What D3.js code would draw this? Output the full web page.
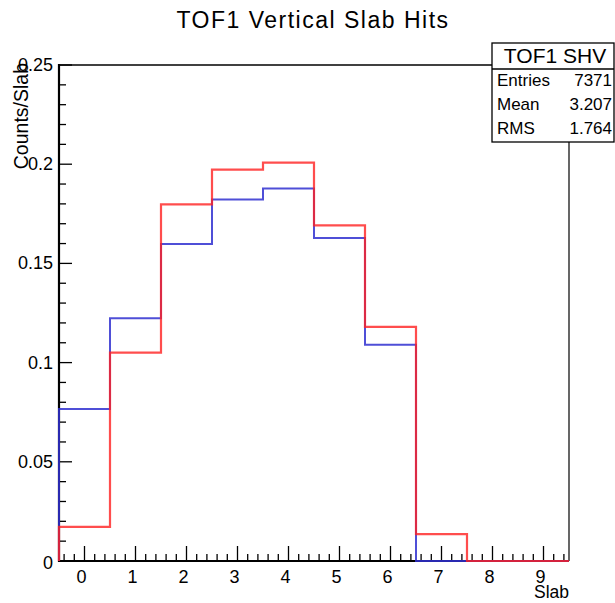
<!DOCTYPE html>
<html><head><meta charset="utf-8">
<script src="https://cdn.jsdelivr.net/npm/d3@7"></script>
<style>body{margin:0;background:#fff;} svg{display:block;}</style>
</head><body>
<script>
const slabs = [0,1,2,3,4,5,6,7,8,9];
const blueValues = [0.0766,0.1223,0.1598,0.1822,0.1878,0.1628,0.1090,0,0,0];
const redValues  = [0.0172,0.1050,0.1798,0.1973,0.2008,0.1692,0.1180,0.0135,0,0];
const yTicks = [0,0.05,0.1,0.15,0.2,0.25];
const yTickLabels = ["0","0.05","0.1","0.15","0.2","0.25"];
const statLabels = ["Entries","Mean","RMS"];
const statValues = ["7371","3.207","1.764"];
const titleText = "TOF1 Vertical Slab Hits";
const statTitle = "TOF1 SHV";

const W=615,H=603;
const svg=d3.select("body").append("svg").attr("width",W).attr("height",H);
const L=59,R=569,T=65,B=561;
const x=d3.scaleLinear().domain([-0.5,9.5]).range([L,R]);
const y=d3.scaleLinear().domain([0,0.25]).range([B,T]);
const font="Liberation Sans, Arial, sans-serif";

// title
svg.append("text").attr("x",313).attr("y",28).attr("text-anchor","middle")
  .attr("font-family",font).attr("font-size",23).attr("letter-spacing",1.5).text(titleText);

// frame
svg.append("line").attr("x1",L).attr("x2",R).attr("y1",T).attr("y2",T).attr("stroke","#000").attr("stroke-width",1.5);
svg.append("line").attr("x1",R).attr("x2",R).attr("y1",T).attr("y2",B).attr("stroke","#000").attr("stroke-width",1.2);

// y ticks (inside)
const g=svg.append("g");
const yMinor=d3.range(0,0.2501,0.01);
yMinor.forEach(v=>{
  const major=Math.abs(v/0.05-Math.round(v/0.05))<1e-6;
  g.append("line").attr("x1",L).attr("x2",L+(major?13:7)).attr("y1",y(v)).attr("y2",y(v))
   .attr("stroke","#000").attr("stroke-width",1.3);
});
yTicks.forEach((v,i)=>{
  g.append("text").attr("x",53).attr("y",y(v)+6+(v===0?2:0)).attr("text-anchor","end")
   .attr("font-family",font).attr("font-size",18).text(yTickLabels[i]);
});
// x ticks (inside)
const xMinor=d3.range(-0.4,9.5,0.2);
xMinor.forEach(v=>{
  const major=Math.abs(v-Math.round(v))<1e-6;
  g.append("line").attr("x1",x(v)).attr("x2",x(v)).attr("y1",B).attr("y2",B-(major?15:7))
   .attr("stroke","#000").attr("stroke-width",1.3);
});
slabs.forEach(s=>{
  g.append("text").attr("x",x(s)-3).attr("y",583).attr("text-anchor","middle")
   .attr("font-family",font).attr("font-size",18).text(s);
});
// axis lines
svg.append("line").attr("x1",L).attr("x2",L).attr("y1",T-1).attr("y2",B+1).attr("stroke","#000").attr("stroke-width",2.2);
svg.append("line").attr("x1",L-1).attr("x2",R).attr("y1",B).attr("y2",B).attr("stroke","#000").attr("stroke-width",2.2);

// axis titles
svg.append("text").attr("x",569).attr("y",598).attr("text-anchor","end")
  .attr("font-family",font).attr("font-size",17.5).text("Slab");
svg.append("text").attr("transform","translate(28,63) rotate(-90)").attr("text-anchor","end")
  .attr("font-family",font).attr("font-size",19.5).text("Counts/Slab");

// histograms
function stepPath(vals){
  const pts=[[x(-0.5),y(0)]];
  vals.forEach((v,i)=>{pts.push([x(slabs[i]-0.5),y(v)]);pts.push([x(slabs[i]+0.5),y(v)]);});
  return d3.line()(pts);
}
svg.append("path").attr("d",stepPath(blueValues)).attr("fill","none")
  .attr("stroke","#3030d0").attr("stroke-width",2).attr("opacity",0.85);
svg.append("path").attr("d",stepPath(redValues)).attr("fill","none")
  .attr("stroke","#ff2020").attr("stroke-width",2.2).attr("opacity",0.8);

// stats box
const bx=492,by=43,bw=122,bh=99;
svg.append("rect").attr("x",bx).attr("y",by).attr("width",bw).attr("height",bh)
  .attr("fill","#fff").attr("stroke","#000").attr("stroke-width",1.3);
svg.append("line").attr("x1",bx).attr("x2",bx+bw).attr("y1",69).attr("y2",69).attr("stroke","#000").attr("stroke-width",1.3);
svg.append("text").attr("x",bx+bw/2+2).attr("y",63).attr("text-anchor","middle")
  .attr("font-family",font).attr("font-size",21).text(statTitle);
statLabels.forEach((s,i)=>{
  const yy=86+i*24;
  svg.append("text").attr("x",497).attr("y",yy).attr("font-family",font).attr("font-size",17).text(s);
  svg.append("text").attr("x",612).attr("y",yy).attr("text-anchor","end").attr("font-family",font).attr("font-size",17).text(statValues[i]);
});
</script>
</body></html>
